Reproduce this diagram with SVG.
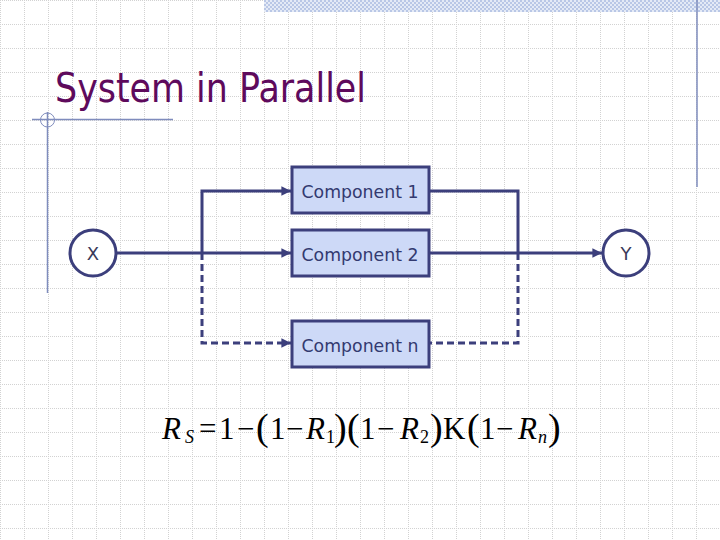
<svg xmlns="http://www.w3.org/2000/svg" width="720" height="540" viewBox="0 0 720 540">
<defs>
<pattern id="grid" width="24" height="24" patternUnits="userSpaceOnUse">
<path d="M0 0.5H24M0.5 0V24" fill="none" stroke="#d2d2d2" stroke-width="1" stroke-dasharray="1 1"/>
</pattern>
<pattern id="checker" width="4" height="4" patternUnits="userSpaceOnUse">
<rect width="4" height="4" fill="#e4eaf6"/>
<rect width="2" height="2" fill="#b9c7e6"/>
<rect x="2" y="2" width="2" height="2" fill="#b9c7e6"/>
</pattern>
<marker id="arrow" viewBox="0 0 10 10" refX="10" refY="5" markerWidth="3.2" markerHeight="3.2" orient="auto" markerUnits="strokeWidth">
<path d="M0 0L10 5L0 10z" fill="#3c3f7c"/>
</marker>
<style>
.conn{fill:none;stroke:#3c3f7c;stroke-width:3}
.dash{stroke-dasharray:7 4}
.box{fill:#cdd9f7;stroke:#3c3f7c;stroke-width:3}
.ctext{font-family:"DejaVu Sans",Verdana,sans-serif;font-size:17px;fill:#333a70;text-anchor:middle}
.circ{fill:#ffffff;stroke:#3c3f7c;stroke-width:3}
.ntext{font-family:"DejaVu Sans",Verdana,sans-serif;font-size:18px;fill:#3a3a5a;text-anchor:middle}
.deco{stroke:#7f8cbd;stroke-width:1.5;fill:none}
.m{font-family:"Liberation Serif","Times New Roman",serif;font-size:31px;fill:#000}
.mi{font-style:italic}
.sub{font-size:18px}
.par{font-size:38px}
</style>
</defs>
<rect width="720" height="540" fill="#ffffff"/>
<rect width="720" height="540" fill="url(#grid)"/>
<rect x="264" y="0" width="456" height="12" fill="url(#checker)"/>
<g id="decor">
<line class="deco" x1="697" y1="0" x2="697" y2="187"/>
<line class="deco" x1="47.5" y1="112" x2="47.5" y2="293"/>
<line class="deco" x1="32" y1="119.5" x2="173" y2="119.5"/>
<circle cx="47.5" cy="120" r="7" fill="none" stroke="#7f8cbd" stroke-width="1"/>
</g>
<text id="title" x="55" y="102" font-family="DejaVu Sans,Verdana,sans-serif" font-size="40" fill="#5e0a5c" textLength="311" lengthAdjust="spacingAndGlyphs">System in Parallel</text>
<g id="connectors">
<line class="conn" x1="116" y1="253" x2="291" y2="253" marker-end="url(#arrow)"/>
<polyline class="conn" points="202,253 202,191 291,191" marker-end="url(#arrow)"/>
<polyline class="conn dash" points="202,253 202,343 291,343" marker-end="url(#arrow)"/>
<polyline class="conn" points="430,191 518,191 518,253"/>
<polyline class="conn dash" points="518,253 518,343 430,343"/>
<line class="conn" x1="430" y1="253" x2="602" y2="253" marker-end="url(#arrow)"/>
</g>
<g id="nodeX">
<circle class="circ" cx="93" cy="253" r="23"/>
<text class="ntext" x="93" y="260">X</text>
</g>
<g id="nodeY">
<circle class="circ" cx="626" cy="253" r="23"/>
<text class="ntext" x="626" y="260">Y</text>
</g>
<g id="comp1">
<rect class="box" x="292" y="167" width="137" height="46"/>
<text class="ctext" x="360" y="198" textLength="117" lengthAdjust="spacingAndGlyphs">Component 1</text>
</g>
<g id="comp2">
<rect class="box" x="292" y="230" width="137" height="46"/>
<text class="ctext" x="360" y="261" textLength="117" lengthAdjust="spacingAndGlyphs">Component 2</text>
</g>
<g id="compn">
<rect class="box" x="292" y="321" width="137" height="46"/>
<text class="ctext" x="360" y="352" textLength="117" lengthAdjust="spacingAndGlyphs">Component n</text>
</g>
<g id="formula">
<text class="m"><tspan class="mi" x="162" y="439">R</tspan><tspan class="mi sub" x="185" y="443">S</tspan><tspan x="199" y="439">=</tspan><tspan x="219" y="439">1</tspan><tspan x="237" y="439">−</tspan><tspan class="par" x="256" y="440">(</tspan><tspan x="270" y="439">1</tspan><tspan x="286" y="439">−</tspan><tspan class="mi" x="306" y="439">R</tspan><tspan class="sub" x="326" y="443">1</tspan><tspan class="par" x="334" y="440">)</tspan><tspan class="par" x="347" y="440">(</tspan><tspan x="360" y="439">1</tspan><tspan x="377" y="439">−</tspan><tspan class="mi" x="400" y="439">R</tspan><tspan class="sub" x="420" y="443">2</tspan><tspan class="par" x="430" y="440">)</tspan><tspan x="443" y="439">K</tspan><tspan class="par" x="467" y="440">(</tspan><tspan x="480" y="439">1</tspan><tspan x="496" y="439">−</tspan><tspan class="mi" x="518" y="439">R</tspan><tspan class="mi sub" x="538" y="443">n</tspan><tspan class="par" x="548" y="440">)</tspan></text>
</g>
</svg>
